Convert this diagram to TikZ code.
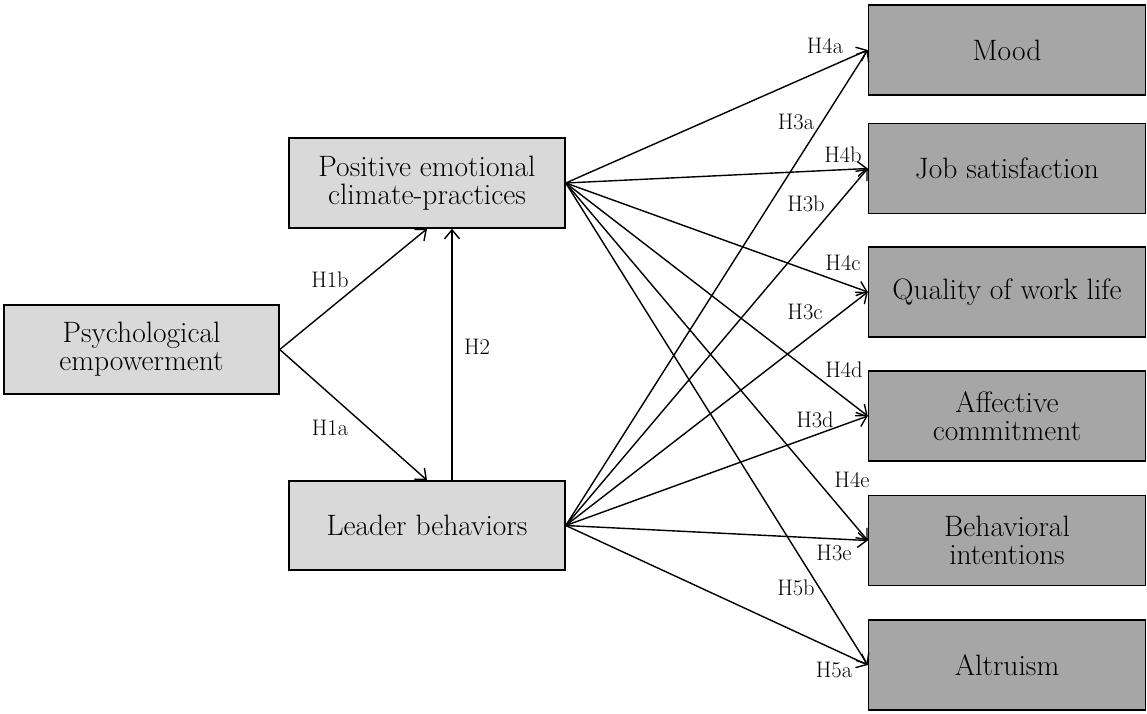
\documentclass[tikz,border=0pt]{standalone}
\usetikzlibrary{arrows.meta}
\definecolor{lightbox}{HTML}{D9D9D9}
\definecolor{darkbox}{HTML}{A6A6A6}
\tikzset{
  leftbox/.style={draw=black, line width=1.5pt, fill=lightbox,
    minimum width=275pt, minimum height=89pt, align=center, inner sep=0pt,
    font=\fontsize{29.5}{28}\selectfont},
  rightbox/.style={leftbox, fill=darkbox, minimum width=277pt, minimum height=90pt},
  hyp/.style={font=\fontsize{22.5}{24}\selectfont, inner sep=0pt},
  link/.style={line width=1.4pt, -{Straight Barb[length=9pt,width=15pt]}},
}
\begin{document}
\begin{tikzpicture}[x=1pt,y=-1pt]
  \fill[white] (0,0) rectangle (1147,713);
  \useasboundingbox (0,0) rectangle (1147,713);

  % antecedents and mediators
  \node[leftbox] (pe)   at (141.5,349.5) {Psychological\\empowerment};
  \node[leftbox, minimum width=276pt, minimum height=90pt] (pecp) at (427,183) {Positive emotional\\climate-practices};
  \node[leftbox, minimum width=276pt] (lb)   at (427,525.5) {Leader behaviors};

  % outcomes
  \node[rightbox] (mood) at (1007,50)    {Mood};
  \node[rightbox] (job)  at (1007,168.5) {Job satisfaction};
  \node[rightbox] (qwl)  at (1007,292)   {Quality of work life};
  \node[rightbox] (ac)   at (1007,416)   {Affective\\commitment};
  \node[rightbox] (bi)   at (1007,540.5) {Behavioral\\intentions};
  \node[rightbox] (alt)  at (1007,665)   {Altruism};

  % paths from psychological empowerment
  \draw[link] (pe.east) -- (pecp.south);
  \draw[link] (pe.east) -- (lb.north);
  \draw[link] ([xshift=25pt]lb.north) -- ([xshift=25pt]pecp.south);

  % paths from the emotional climate
  \foreach \t in {mood,job,qwl,ac,bi,alt}
    \draw[link] (pecp.east) -- (\t.west);
  % paths from leader behaviors
  \foreach \t in {mood,job,qwl,ac,bi,alt}
    \draw[link] (lb.east) -- (\t.west);

  % hypothesis labels
  \node[hyp] (h1b) at (330,280) {H1b};
  \node[hyp] (h1a) at (330,428) {H1a};
  \node[hyp] (h2)  at (477,347) {H2};
  \node[hyp] (h4a) at (825,46)  {H4a};
  \node[hyp] (h3a) at (796,122) {H3a};
  \node[hyp] (h4b) at (843,155) {H4b};
  \node[hyp] (h3b) at (806,204) {H3b};
  \node[hyp] (h4c) at (843,263) {H4c};
  \node[hyp] (h3c) at (805,312) {H3c};
  \node[hyp] (h4d) at (844,370) {H4d};
  \node[hyp] (h3d) at (815,420) {H3d};
  \node[hyp] (h4e) at (852,480) {H4e};
  \node[hyp] (h3e) at (834,553) {H3e};
  \node[hyp] (h5b) at (796,588) {H5b};
  \node[hyp] (h5a) at (834,670) {H5a};
\end{tikzpicture}
\end{document}
